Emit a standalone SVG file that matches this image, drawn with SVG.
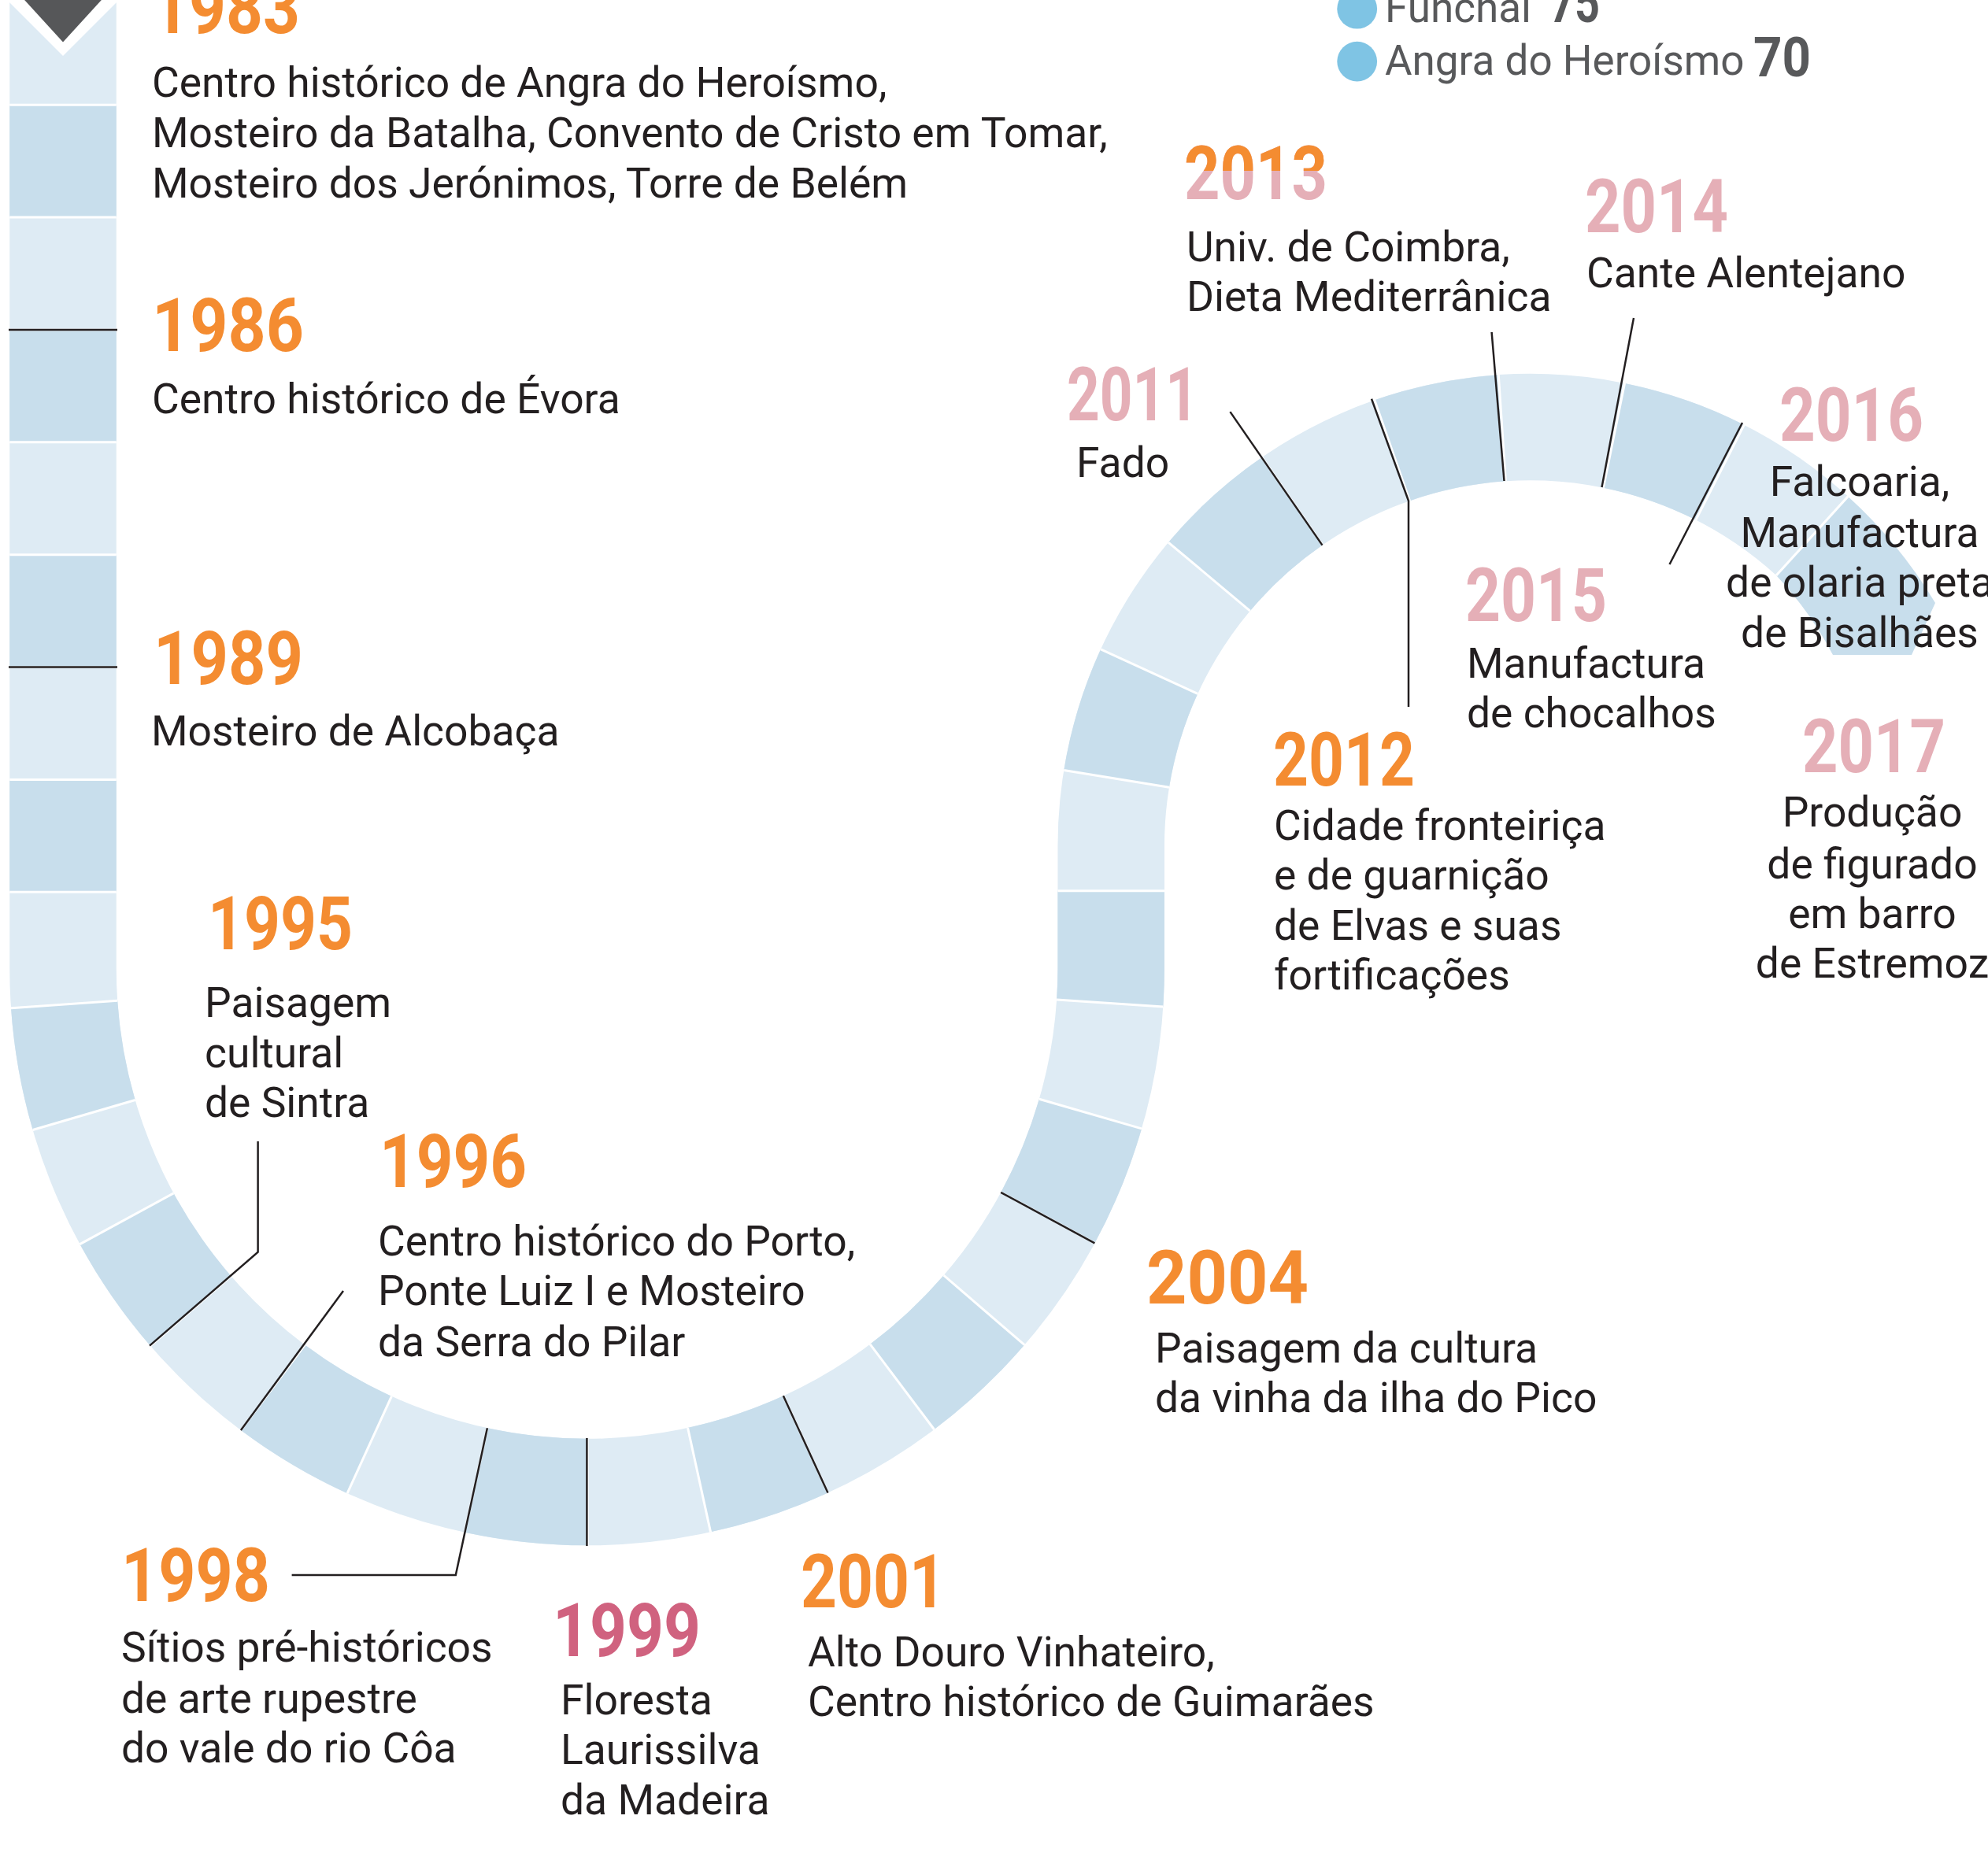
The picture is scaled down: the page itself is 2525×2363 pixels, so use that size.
<svg xmlns="http://www.w3.org/2000/svg" width="2525" height="2363" viewBox="0 0 2525 2363">
<defs>
<style>
.yr{font-family:Roboto,'Liberation Sans',sans-serif;font-weight:700;font-size:94px}
.o{fill:#f48c31}
.p{fill:#e5afb7}
.t{font-family:Roboto,'Liberation Sans',sans-serif;font-size:53.4px;fill:#231f20}
.c{text-anchor:middle}
.ln{fill:none;stroke:#231f20;stroke-width:2.5}
.lg{font-family:Roboto,'Liberation Sans',sans-serif;font-size:53px;fill:#58595b}
.lgn{font-family:Roboto,'Liberation Sans',sans-serif;font-weight:700;font-size:70px;fill:#58595b}
</style>
<clipPath id="top2013">
<rect x="1480" y="150" width="250" height="67"/>
</clipPath>
</defs>
<rect width="2525" height="2363" fill="#fff"/>

<g id="timeline">
<path d="M80,-9.6 V1230 A665.6,665.6 0 0 0 1411.2,1230 V1075 A532.45,532.45 0 0 1 2301.7,680.9" fill="none" stroke="#deebf4" stroke-width="135.5"/>
<path d="M80,-9.6 V1230 A665.6,665.6 0 0 0 1411.2,1230 V1075 A532.45,532.45 0 0 1 2301.7,680.9" fill="none" stroke="#c8deec" stroke-width="135.5" stroke-dasharray="142.86 142.86" stroke-dashoffset="142.86"/>
<path d="M80,-9.6 V1230 A665.6,665.6 0 0 0 1411.2,1230 V1075 A532.45,532.45 0 0 1 2301.7,680.9" fill="none" stroke="#fff" stroke-width="135.5" stroke-dasharray="3 139.86" stroke-dashoffset="1.5"/>
<path d="M2347.2,630.8 A600.2,600.2 0 0 1 2458,766 L2428,832 L2328,832 A464.7,464.7 0 0 0 2256.1,731.1 Z" fill="#c8deec"/>
<line x1="2347.2" y1="630.8" x2="2256.1" y2="731.1" stroke="#fff" stroke-width="3"/>
<polygon points="-1,-10 161,-10 80,71" fill="#fff"/>
<polygon points="22,-10 138,-10 80,53.5" fill="#565759"/>
</g>

<g id="connectors">
<line class="ln" x1="11" y1="419" x2="149" y2="419"/>
<line class="ln" x1="11" y1="847.6" x2="149" y2="847.6"/>
<polyline class="ln" points="327.6,1450 327.6,1590.8 190,1709.6"/>
<line class="ln" x1="305.9" y1="1816.9" x2="436" y2="1640"/>
<polyline class="ln" points="618.9,1814.2 578.8,2001 370.6,2001"/>
<line class="ln" x1="745.4" y1="1827" x2="745.4" y2="1964"/>
<line class="ln" x1="994.9" y1="1773.3" x2="1051.5" y2="1896.6"/>
<line class="ln" x1="1271.2" y1="1514.8" x2="1390.4" y2="1579.4"/>
<line class="ln" x1="1679.5" y1="692.6" x2="1562.4" y2="523.1"/>
<polyline class="ln" points="1742,506.7 1789,636.3 1789,898"/>
<line class="ln" x1="1910.5" y1="611" x2="1894.6" y2="422"/>
<line class="ln" x1="2034.5" y1="619" x2="2075" y2="404"/>
<line class="ln" x1="2213" y1="537" x2="2120.5" y2="717"/>
</g>

<g id="legend">
<circle cx="1723.7" cy="11.2" r="25.4" fill="#7fc4e4"/>
<circle cx="1723.7" cy="78.1" r="25.4" fill="#7fc4e4"/>
<text class="lg" x="1759" y="27.7">Funchal</text>
<text class="lgn" x="1968" y="27.7" textLength="64" lengthAdjust="spacingAndGlyphs">75</text>
<text class="lg" x="1759" y="95">Angra do Heroísmo</text>
<text class="lgn" x="2227" y="97" textLength="73" lengthAdjust="spacingAndGlyphs">70</text>
</g>

<g id="y1983">
<text class="yr o" x="193" y="42" textLength="188" lengthAdjust="spacingAndGlyphs">1983</text>
<text class="t" x="193" y="122.5">Centro histórico de Angra do Heroísmo,</text>
<text class="t" x="193" y="186.8">Mosteiro da Batalha, Convento de Cristo em Tomar,</text>
<text class="t" x="193" y="250.7">Mosteiro dos Jerónimos, Torre de Belém</text>
</g>
<g id="y1986">
<text class="yr o" x="193" y="446" textLength="193" lengthAdjust="spacingAndGlyphs">1986</text>
<text class="t" x="193" y="525">Centro histórico de Évora</text>
</g>
<g id="y1989">
<text class="yr o" x="195" y="869" textLength="190" lengthAdjust="spacingAndGlyphs">1989</text>
<text class="t" x="192" y="947">Mosteiro de Alcobaça</text>
</g>
<g id="y1995">
<text class="yr o" x="264" y="1206" textLength="184" lengthAdjust="spacingAndGlyphs">1995</text>
<text class="t" x="260" y="1292">Paisagem</text>
<text class="t" x="260" y="1355.5">cultural</text>
<text class="t" x="260" y="1419">de Sintra</text>
</g>
<g id="y1996">
<text class="yr o" x="482" y="1508" textLength="187" lengthAdjust="spacingAndGlyphs">1996</text>
<text class="t" x="480" y="1595">Centro histórico do Porto,</text>
<text class="t" x="480" y="1658">Ponte Luiz I e Mosteiro</text>
<text class="t" x="480" y="1723">da Serra do Pilar</text>
</g>
<g id="y1998">
<text class="yr o" x="154" y="2034" textLength="189" lengthAdjust="spacingAndGlyphs">1998</text>
<text class="t" x="154" y="2111">Sítios pré-históricos</text>
<text class="t" x="154" y="2175.5">de arte rupestre</text>
<text class="t" x="154" y="2239">do vale do rio Côa</text>
</g>
<g id="y1999">
<text class="yr" fill="#d0627f" x="702" y="2104" textLength="188" lengthAdjust="spacingAndGlyphs">1999</text>
<text class="t" x="712" y="2178">Floresta</text>
<text class="t" x="712" y="2241">Laurissilva</text>
<text class="t" x="712" y="2304.5">da Madeira</text>
</g>
<g id="y2001">
<text class="yr o" x="1017" y="2042" textLength="184" lengthAdjust="spacingAndGlyphs">2001</text>
<text class="t" x="1026" y="2117">Alto Douro Vinhateiro,</text>
<text class="t" x="1026" y="2180">Centro histórico de Guimarães</text>
</g>
<g id="y2004">
<text class="yr o" x="1456" y="1656" textLength="206" lengthAdjust="spacingAndGlyphs">2004</text>
<text class="t" x="1467" y="1730.5">Paisagem da cultura</text>
<text class="t" x="1467" y="1793.5">da vinha da ilha do Pico</text>
</g>
<g id="y2011">
<text class="yr p" x="1355" y="534" textLength="167" lengthAdjust="spacingAndGlyphs">2011</text>
<text class="t" x="1367" y="605.5">Fado</text>
</g>
<g id="y2012">
<text class="yr o" x="1617" y="998" textLength="180" lengthAdjust="spacingAndGlyphs">2012</text>
<text class="t" x="1618" y="1067">Cidade fronteiriça</text>
<text class="t" x="1618" y="1130">e de guarnição</text>
<text class="t" x="1618" y="1193.5">de Elvas e suas</text>
<text class="t" x="1618" y="1256.5">fortificações</text>
</g>
<g id="y2013">
<text class="yr p" x="1504" y="252.6" textLength="182" lengthAdjust="spacingAndGlyphs">2013</text>
<text class="yr o" clip-path="url(#top2013)" x="1504" y="252.6" textLength="182" lengthAdjust="spacingAndGlyphs">2013</text>
<text class="t" x="1507" y="332">Univ. de Coimbra,</text>
<text class="t" x="1507" y="395">Dieta Mediterrânica</text>
</g>
<g id="y2014">
<text class="yr p" x="2013" y="294.6" textLength="182" lengthAdjust="spacingAndGlyphs">2014</text>
<text class="t" x="2015" y="364.5">Cante Alentejano</text>
</g>
<g id="y2015">
<text class="yr p" x="1861" y="789" textLength="180" lengthAdjust="spacingAndGlyphs">2015</text>
<text class="t" x="1863" y="860.5">Manufactura</text>
<text class="t" x="1863" y="923.5">de chocalhos</text>
</g>
<g id="y2016">
<text class="yr p" x="2260" y="560" textLength="183" lengthAdjust="spacingAndGlyphs">2016</text>
<text class="t c" x="2362" y="630">Falcoaria,</text>
<text class="t c" x="2362" y="695">Manufactura</text>
<text class="t c" x="2362" y="758">de olaria preta</text>
<text class="t c" x="2362" y="822">de Bisalhães</text>
</g>
<g id="y2017">
<text class="yr p" x="2289" y="981" textLength="182" lengthAdjust="spacingAndGlyphs">2017</text>
<text class="t c" x="2378" y="1050">Produção</text>
<text class="t c" x="2378" y="1116">de figurado</text>
<text class="t c" x="2378" y="1179">em barro</text>
<text class="t c" x="2378" y="1242">de Estremoz</text>
</g>
</svg>
